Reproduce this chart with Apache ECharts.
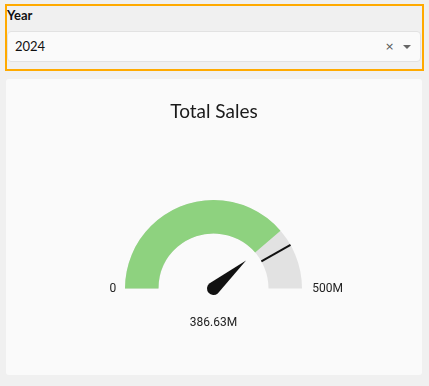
<!DOCTYPE html>
<html>
<head>
<meta charset="utf-8">
<script src="https://cdn.jsdelivr.net/npm/echarts/dist/echarts.min.js"></script>
<style>
html,body{margin:0;padding:0;background:#f0f0f0;width:429px;height:386px;overflow:hidden;}
#filter{position:absolute;left:5px;top:4px;width:419px;height:67px;box-sizing:border-box;border:2px solid #ffaa00;}
#lbl{position:absolute;left:7px;top:6px;font-family:Lato;font-weight:bold;font-size:13px;color:#111;line-height:18px;}
#sel{position:absolute;left:7px;top:31px;width:414px;height:31px;box-sizing:border-box;background:#fafafa;border:1px solid #e2e2e2;border-radius:4px;}
#selval{position:absolute;left:7px;top:0;line-height:29px;font-family:Lato;font-size:13px;color:#111;}
#clr{position:absolute;left:377px;top:0;line-height:29px;font-family:"DejaVu Sans";font-size:11px;color:#555;}
#caret{position:absolute;left:395px;top:13px;width:0;height:0;border-left:4px solid transparent;border-right:4px solid transparent;border-top:4px solid #666;}
#card{position:absolute;left:6px;top:79px;width:416px;height:296px;background:#fafafa;border-radius:3px;}
#chart{position:absolute;left:0;top:0;width:416px;height:296px;}
</style>
</head>
<body>
<div id="filter"></div>
<div id="lbl">Year</div>
<div id="sel"><span id="selval">2024</span><span id="clr">×</span><div id="caret"></div></div>
<div id="card"><div id="chart"></div></div>
<script>
// ---- data ----
const categories = ['Total Sales'];
const salesValues = [386.63];      // in millions
const targetValues = [418];        // in millions (threshold marker)
const axisRange = [0, 500];        // in millions
const tickLabels = ['0', '500M'];
const chartTitle = 'Total Sales';

const chart = echarts.init(document.getElementById('chart'));
const CX = 207.5, CY = 209.5, R = 88.5, W = 33.5;

const option = {
  animation: false,
  title: {
    text: chartTitle,
    left: 'center',
    top: 23,
    padding: 0,
    textStyle: { fontFamily: 'Lato', fontSize: 19, fontWeight: 'normal', color: '#1a1a1a' }
  },
  series: [
    {
      type: 'gauge',
      center: [CX, CY],
      radius: R,
      startAngle: 180,
      endAngle: 0,
      min: axisRange[0],
      max: axisRange[1],
      splitNumber: 1,
      axisLine: { show: true, lineStyle: { width: W, color: [[1, '#e2e2e2']] } },
      progress: { show: true, width: W, itemStyle: { color: '#8ed27f' } },
      splitLine: { show: false, length: 0, distance: 0 },
      axisTick: { show: false },
      axisLabel: {
        show: true,
        distance: -41,
        padding: [0, 0, 0, 25.6],
        color: '#222',
        fontFamily: 'Roboto',
        fontSize: 12,
        formatter: function (v) { return v === axisRange[0] ? tickLabels[0] : tickLabels[1]; }
      },
      pointer: {
        show: true,
        icon: 'path://M6.5,0 L13,43 A6.5,6.5 0 1 1 0,43 Z',
        width: 13,
        length: 49.5,
        offsetCenter: [0, 6.5],
        itemStyle: { color: '#111' }
      },
      anchor: { show: false },
      title: { show: false },
      detail: {
        show: true,
        offsetCenter: [0, 34.5],
        formatter: '{value}M',
        color: '#222',
        fontFamily: 'Roboto',
        fontSize: 12,
        fontWeight: 'normal'
      },
      data: [{ value: salesValues[0], name: categories[0] }]
    },
    {
      type: 'gauge',
      center: [CX, CY],
      radius: R,
      startAngle: 180,
      endAngle: 0,
      min: axisRange[0],
      max: axisRange[1],
      axisLine: { show: false, lineStyle: { width: 0 } },
      progress: { show: false },
      splitLine: { show: false },
      axisTick: { show: false },
      axisLabel: { show: false },
      pointer: {
        show: true,
        icon: 'rect',
        width: 2,
        length: W,
        offsetCenter: [0, -(R - W)],
        itemStyle: { color: '#111' }
      },
      anchor: { show: false },
      title: { show: false },
      detail: { show: false },
      data: [{ value: targetValues[0], name: 'Target' }]
    }
  ]
};
chart.setOption(option);
</script>
</body>
</html>
